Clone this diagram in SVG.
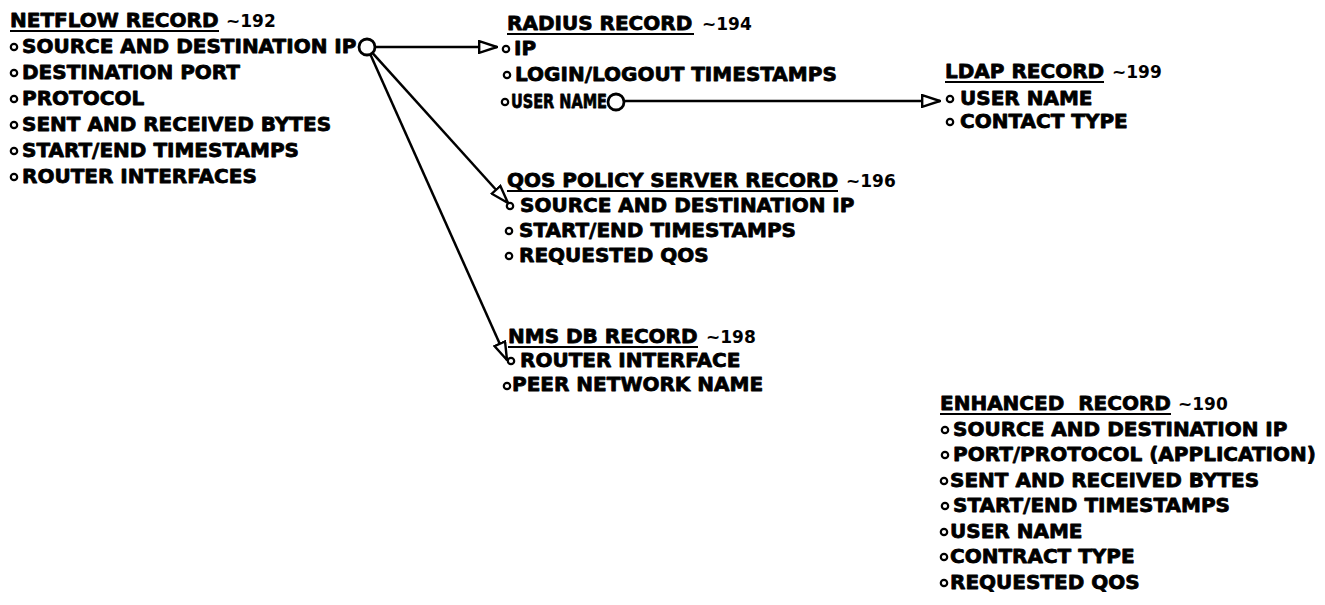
<svg xmlns="http://www.w3.org/2000/svg" width="1325" height="605" viewBox="0 0 1325 605">
<style>
  .t { font-family: "DejaVu Sans", "Liberation Sans", sans-serif; font-weight: bold; font-size: 20px; fill: #000; stroke: #000; stroke-width: 0.8; stroke-linejoin: round; white-space: pre; }
  .n { font-family: "DejaVu Sans", "Liberation Sans", sans-serif; font-weight: bold; font-size: 17px; fill: #000; }
  .b { fill: none; stroke: #000; stroke-width: 2.2; }
  .u { stroke: #000; stroke-width: 2.2; }
  .c { stroke: #000; stroke-width: 2.5; fill: none; }
  .ring { fill: #fff; stroke: #000; stroke-width: 2.8; }
</style>
<defs>
  <marker id="tri" viewBox="0 0 20 14" refX="19" refY="7" markerWidth="20" markerHeight="14" markerUnits="userSpaceOnUse" orient="auto">
    <path d="M1.2,1.2 L19,7 L1.2,12.8 Z" fill="#fff" stroke="#000" stroke-width="2.4" stroke-linejoin="miter"/>
  </marker>
</defs>
<rect width="1325" height="605" fill="#fff"/>

<g id="netflow">
  <text class="t" x="10" y="27">NETFLOW RECORD</text>
  <line class="u" x1="10" y1="31" x2="219" y2="31"/>
  <text class="n" x="226" y="27">~192</text>
  <circle class="b" cx="14" cy="47" r="3.2"/><text class="t" x="22" y="53">SOURCE AND DESTINATION IP</text>
  <circle class="b" cx="14" cy="73" r="3.2"/><text class="t" x="22" y="79">DESTINATION PORT</text>
  <circle class="b" cx="14" cy="99" r="3.2"/><text class="t" x="22" y="105">PROTOCOL</text>
  <circle class="b" cx="14" cy="125" r="3.2"/><text class="t" x="22" y="131">SENT AND RECEIVED BYTES</text>
  <circle class="b" cx="14" cy="151" r="3.2"/><text class="t" x="22" y="157">START/END TIMESTAMPS</text>
  <circle class="b" cx="14" cy="177" r="3.2"/><text class="t" x="22" y="183">ROUTER INTERFACES</text>
</g>

<g id="radius">
  <text class="t" x="507" y="30">RADIUS RECORD</text>
  <line class="u" x1="507" y1="34" x2="694" y2="34"/>
  <text class="n" x="702" y="30">~194</text>
  <circle class="b" cx="506" cy="49" r="3.2"/><text class="t" x="514" y="55">IP</text>
  <circle class="b" cx="507" cy="75" r="3.2"/><text class="t" x="515" y="81">LOGIN/LOGOUT TIMESTAMPS</text>
  <circle class="b" cx="505" cy="102" r="3.2"/><text class="t" x="511" y="108" textLength="96" lengthAdjust="spacingAndGlyphs">USER NAME</text>
</g>

<g id="ldap">
  <text class="t" x="945" y="78">LDAP RECORD</text>
  <line class="u" x1="945" y1="82" x2="1104" y2="82"/>
  <text class="n" x="1112" y="78">~199</text>
  <circle class="b" cx="950" cy="99" r="3.2"/><text class="t" x="960" y="105">USER NAME</text>
  <circle class="b" cx="950" cy="122" r="3.2"/><text class="t" x="960" y="128">CONTACT TYPE</text>
</g>

<g id="qos">
  <text class="t" x="507" y="187">QOS POLICY SERVER RECORD</text>
  <line class="u" x1="507" y1="191" x2="838" y2="191"/>
  <text class="n" x="846" y="187">~196</text>
  <circle class="b" cx="510" cy="206" r="3.2"/><text class="t" x="520" y="212">SOURCE AND DESTINATION IP</text>
  <circle class="b" cx="509" cy="231" r="3.2"/><text class="t" x="519" y="237">START/END TIMESTAMPS</text>
  <circle class="b" cx="509" cy="256" r="3.2"/><text class="t" x="519" y="262">REQUESTED QOS</text>
</g>

<g id="nms">
  <text class="t" x="508" y="343">NMS DB RECORD</text>
  <line class="u" x1="508" y1="347" x2="698" y2="347"/>
  <text class="n" x="706" y="343">~198</text>
  <circle class="b" cx="511" cy="361" r="3.2"/><text class="t" x="520" y="367">ROUTER INTERFACE</text>
  <circle class="b" cx="507" cy="386" r="3.2"/><text class="t" x="512" y="391">PEER NETWORK NAME</text>
</g>

<g id="enhanced">
  <text class="t" x="940" y="410">ENHANCED  RECORD</text>
  <line class="u" x1="940" y1="414" x2="1171" y2="414"/>
  <text class="n" x="1178" y="410">~190</text>
  <circle class="b" cx="945" cy="430" r="3.2"/><text class="t" x="953" y="436">SOURCE AND DESTINATION IP</text>
  <circle class="b" cx="945" cy="455" r="3.2"/><text class="t" x="953" y="461">PORT/PROTOCOL (APPLICATION)</text>
  <circle class="b" cx="944" cy="481" r="3.2"/><text class="t" x="950" y="487">SENT AND RECEIVED BYTES</text>
  <circle class="b" cx="945" cy="506" r="3.2"/><text class="t" x="953" y="512">START/END TIMESTAMPS</text>
  <circle class="b" cx="944" cy="532" r="3.2"/><text class="t" x="950" y="538">USER NAME</text>
  <circle class="b" cx="944" cy="557" r="3.2"/><text class="t" x="950" y="563">CONTRACT TYPE</text>
  <circle class="b" cx="944" cy="583" r="3.2"/><text class="t" x="950" y="589">REQUESTED QOS</text>
</g>

<g id="connectors">
  <line class="c" x1="375" y1="47" x2="497" y2="47" marker-end="url(#tri)"/>
  <line class="c" x1="372.4" y1="52.9" x2="508" y2="203" marker-end="url(#tri)"/>
  <line class="c" x1="370.3" y1="54.3" x2="507" y2="360" marker-end="url(#tri)"/>
  <line class="c" x1="624" y1="101" x2="940" y2="101" marker-end="url(#tri)"/>
  <circle class="ring" cx="367" cy="47" r="8"/>
  <circle class="ring" cx="616" cy="102" r="8"/>
</g>
</svg>
